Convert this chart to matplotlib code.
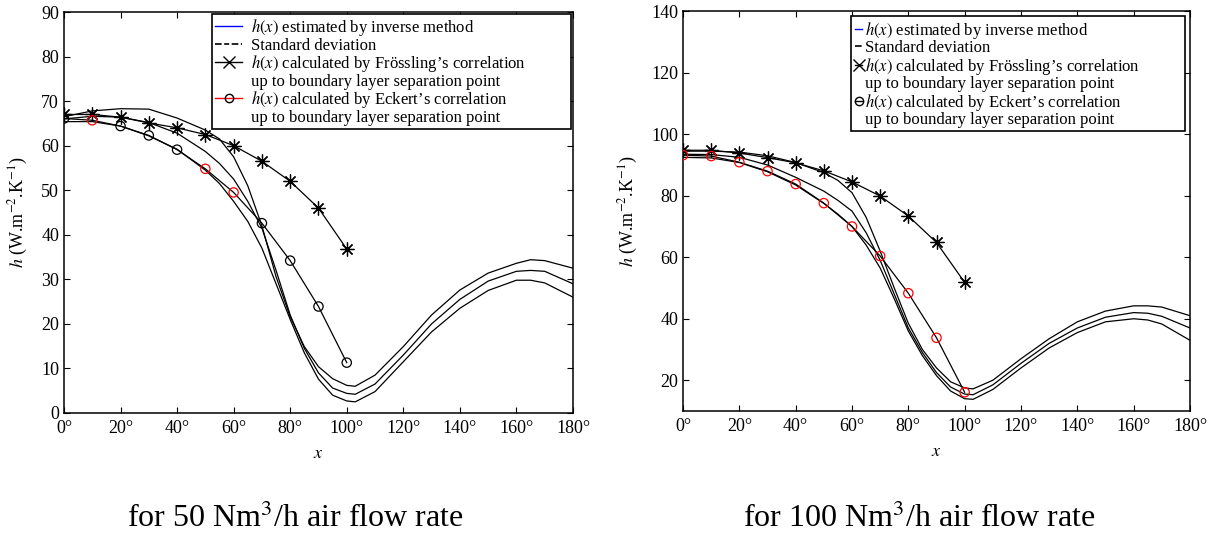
import numpy as np
import matplotlib
matplotlib.use("Agg")
import matplotlib.pyplot as plt
from matplotlib.lines import Line2D

plt.rcParams["font.family"] = ["Liberation Serif", "DejaVu Serif"]
plt.rcParams["mathtext.fontset"] = "stix"

# angle grid of the inverse-method curves (deg)
x_curve = [0, 10, 20, 30, 40, 50, 55, 60, 65, 70, 75, 80, 85, 90, 95, 100, 103,
           110, 120, 130, 140, 150, 160, 165, 170, 180]

# 50 Nm3/h
upper_50 = [66.5, 67.8, 68.3, 68.2, 66.2, 63.5, 61.5, 57.5, 51.0, 42.0, 30.6, 21.6, 14.9,
            10.4, 7.7, 6.2, 6.0, 8.5, 14.9, 22.0, 27.6, 31.4, 33.6, 34.4, 34.2, 32.5]
mean_50 = [66.0, 66.6, 66.4, 65.2, 62.8, 58.7, 56.0, 52.5, 47.5, 41.5, 32.0, 22.0, 14.5,
           9.0, 5.6, 4.4, 4.2, 6.5, 13.0, 20.0, 25.5, 29.6, 31.8, 32.0, 31.8, 29.0]
lower_50 = [65.4, 65.4, 64.4, 62.2, 59.2, 54.5, 51.5, 47.5, 43.0, 37.0, 29.0, 21.0, 13.5,
            7.6, 4.0, 2.7, 2.5, 4.8, 11.5, 18.2, 23.5, 27.5, 29.8, 29.8, 29.2, 26.0]

# 100 Nm3/h
upper_100 = [94.5, 94.5, 94.2, 93.0, 90.8, 87.5, 85.0, 81.0, 73.0, 62.0, 50.0, 38.5, 30.0,
             24.0, 19.5, 17.5, 17.2, 20.0, 27.0, 33.5, 39.0, 42.5, 44.2, 44.2, 43.8, 41.0]
mean_100 = [93.5, 93.4, 92.5, 90.0, 86.0, 81.5, 78.5, 75.0, 68.0, 59.0, 48.0, 37.0, 29.0,
            22.5, 17.8, 15.5, 15.3, 18.5, 25.5, 32.0, 37.0, 40.5, 42.0, 41.8, 40.8, 37.0]
lower_100 = [92.5, 92.3, 90.8, 87.8, 83.5, 77.5, 74.0, 70.0, 64.0, 56.5, 46.5, 36.0, 28.0,
             21.5, 16.5, 14.0, 13.8, 17.0, 24.0, 30.5, 35.5, 39.0, 40.0, 39.6, 38.3, 33.0]

# correlations, 0..100 deg
x_corr = [0, 10, 20, 30, 40, 50, 60, 70, 80, 90, 100]
fross_50 = [67.0, 67.0, 66.4, 65.1, 64.0, 62.5, 60.0, 56.5, 52.0, 46.0, 36.8]
eckert_50 = [66.1, 65.7, 64.4, 62.3, 59.1, 54.8, 49.5, 42.6, 34.2, 23.9, 11.3]
eckert_col_50 = ["k", "r", "k", "k", "k", "r", "r", "k", "k", "k", "k"]
fross_100 = [94.8, 94.8, 93.9, 92.4, 90.7, 88.1, 84.5, 79.9, 73.4, 64.8, 51.8]
eckert_100 = [93.2, 92.9, 90.9, 88.0, 83.8, 77.6, 70.0, 60.4, 48.3, 33.8, 16.1]
eckert_col_100 = ["r"] * 11

xticks = [0, 20, 40, 60, 80, 100, 120, 140, 160, 180]
yticks_50 = [0, 10, 20, 30, 40, 50, 60, 70, 80, 90]
yticks_100 = [20, 40, 60, 80, 100, 120, 140]

fig = plt.figure(figsize=(12.16, 5.36), dpi=100)
ax1 = fig.add_axes([0.0526, 0.2295, 0.4186, 0.7481])
ax2 = fig.add_axes([0.5617, 0.2332, 0.4169, 0.7458])


def draw(ax, upper, mean, lower, fross, eckert, ecol, ylim, yticks, leg_line_col,
         pad, hlen, hpad):
    for c in (upper, mean, lower):
        ax.plot(x_curve, c, color="k", lw=0.9)
    ax.plot(x_corr, fross, color="k", lw=0.9, marker=(8, 2, 0), ms=10, mew=0.9)
    ax.plot(x_corr, eckert, color="k", lw=0.9)
    ax.scatter(x_corr, eckert, s=45, facecolors="none", edgecolors=ecol, linewidths=0.9, zorder=3)

    ax.set_xlim(0, 180)
    ax.set_ylim(*ylim)
    ax.set_xticks(xticks)
    ax.set_xticklabels([f"{v}°" for v in xticks])
    ax.set_yticks(yticks)
    ax.tick_params(direction="in", top=True, right=True, labelsize=13, length=4, width=0.8)
    ax.tick_params(axis="x", pad=5)
    for s in ax.spines.values():
        s.set_linewidth(1.1)
    ax.set_xlabel("$x$", fontsize=13, labelpad=6)
    ax.set_ylabel(r"$h$ (W.m$^{-2}$.K$^{-1}$)", fontsize=13, labelpad=8)

    handles = [
        Line2D([], [], color="b", lw=1),
        Line2D([], [], color="k", lw=1.2, ls=(0, (4, 1.5, 3, 1.5))),
        Line2D([], [], color="k", lw=1, marker="x", ms=8),
        Line2D([], [], ls="none"),
        Line2D([], [], color=leg_line_col, lw=1, marker="o", mfc="none", mec="k", ms=6),
        Line2D([], [], ls="none"),
    ]
    labels = [
        r"$\mathit{h(x)}$ estimated by inverse method",
        "Standard deviation",
        r"$\mathit{h(x)}$ calculated by Frössling’s correlation" + " " * 11,
        "up to boundary layer separation point",
        r"$\mathit{h(x)}$ calculated by Eckert’s correlation",
        "up to boundary layer separation point",
    ]
    leg = ax.legend(handles, labels, loc="upper right", bbox_to_anchor=(1, 1),
                    borderaxespad=pad, fontsize=12, labelspacing=-0.03, handlelength=hlen,
                    handletextpad=hpad, borderpad=0.2, fancybox=False, framealpha=1,
                    edgecolor="k")
    leg.get_frame().set_linewidth(1.2)


draw(ax1, upper_50, mean_50, lower_50, fross_50, eckert_50, eckert_col_50,
     (0, 90), yticks_50, "r", 0.1, 1.6, 0.55)
draw(ax2, upper_100, mean_100, lower_100, fross_100, eckert_100, eckert_col_100,
     (10, 140), yticks_100, "k", 0.3, 0.45, 0.15)

fig.text(0.243, 0.033, "for 50 Nm$^3$/h air flow rate", ha="center", va="center", fontsize=23)
fig.text(0.756, 0.033, "for 100 Nm$^3$/h air flow rate", ha="center", va="center", fontsize=23)

fig.savefig("out.png", dpi=100)
